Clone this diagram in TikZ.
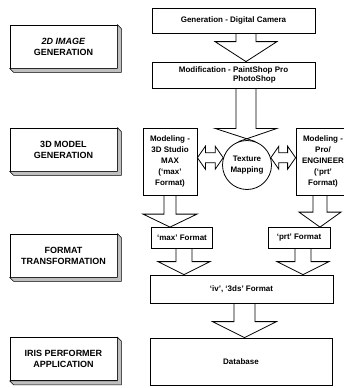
\documentclass[tikz,border=0pt]{standalone}
\usepackage{fontspec}
\setmainfont{Liberation Sans}
\usepackage{tikz}
\usetikzlibrary{calc,positioning}

% hollow block arrow pointing down: from, to, axis x, shaft half, head half, head length
\newcommand{\blockdown}[6]{%
  \draw[blockline] ($(#1.south -| #3,0)+(-#4,0)$) -- ($(#2.north -| #3,0)+(-#4,-#6)$)
    -- ($(#2.north -| #3,0)+(-#5,-#6)$) -- (#2.north -| #3,0)
    -- ($(#2.north -| #3,0)+(#5,-#6)$) -- ($(#2.north -| #3,0)+(#4,-#6)$)
    -- ($(#1.south -| #3,0)+(#4,0)$);}
% hollow double-headed block arrow: left end, right end, shaft half, head half, head length
\newcommand{\blockboth}[5]{%
  \draw[blockline] (#1) -- ($(#1)+(#5,-#4)$) -- ($(#1)+(#5,-#3)$) -- ($(#2)+(-#5,-#3)$)
    -- ($(#2)+(-#5,-#4)$) -- (#2) -- ($(#2)+(-#5,#4)$) -- ($(#2)+(-#5,#3)$)
    -- ($(#1)+(#5,#3)$) -- ($(#1)+(#5,#4)$) -- cycle;}

\begin{document}
\begin{tikzpicture}[
x=1pt,y=-1pt,
font=\bfseries\fontsize{8}{11}\selectfont,
labelbox/.style={draw,fill=white,line width=0.8pt,minimum width=107pt,minimum height=43pt,
  inner sep=0pt,align=center,font=\bfseries\fontsize{9}{11}\selectfont},
shadowband/.style={draw,fill=gray!50,line width=0.6pt,line join=round},
stepbox/.style={draw,fill=white,line width=0.8pt,inner sep=0pt,align=center},
blockline/.style={line width=0.8pt,line join=miter}]
    \useasboundingbox (0,0) rectangle (344,388);
    \clip (0,0) rectangle (344,388);

    % Draw stage labels
    \node[labelbox] (lbltwod) at (63.5,46.5) {\textit{2D IMAGE}\\GENERATION};
    \node[labelbox] (lblthreed) at (63.5,149.5) {3D MODEL\\GENERATION};
    \node[labelbox] (lblformat) at (63.5,255.5) {FORMAT\\TRANSFORMATION};
    \node[labelbox] (lbliris) at (63.5,359) {IRIS PERFORMER\\APPLICATION};
    \foreach \n in {lbltwod,lblthreed,lblformat,lbliris}
        \draw[shadowband] (\n.north east) -- ++(4,4) -- ($(\n.south east)+(4,4)$)
            -- ($(\n.south west)+(4,4)$) -- (\n.south west) -- (\n.south east) -- cycle;

    % Draw process boxes
    \node[stepbox,minimum width=163pt,minimum height=25pt] (gencam) at (233.5,20.5)
        {Generation - Digital Camera};
    \node[stepbox,minimum width=163pt,minimum height=26pt,align=left,
        font=\bfseries\fontsize{8}{9}\selectfont] (modif) at (233.5,75)
        {Modification - PaintShop Pro\\\phantom{Modification - }PhotoShop};
    \node[stepbox,circle,minimum size=49pt] (texmap) at (247,165) {Texture\\Mapping};
    \node[stepbox,minimum width=54pt,minimum height=67pt] (maxmodel) at (170,161.5)
        {Modeling -\\3D Studio\\MAX\\(`max'\\Format)};
    \node[stepbox,minimum width=54pt,minimum height=67pt] (prtmodel) at (323,161.5)
        {Modeling -\\Pro/\\ENGINEER\\(`prt'\\Format)};
    \node[stepbox,minimum width=61pt,minimum height=21pt] (maxfmt) at (182,238) {`max' Format};
    \node[stepbox,minimum width=62pt,minimum height=21pt] (prtfmt) at (299,238) {`prt' Format};
    \node[stepbox,minimum width=183pt,minimum height=28pt] (ivfmt) at (241.5,289) {`iv', `3ds' Format};
    \node[stepbox,minimum width=182pt,minimum height=47pt] (dbase) at (241,361.5) {Database};

    % Draw block arrows
    \blockdown{gencam}{modif}{246}{10}{31}{20}
    \draw[blockline] ($(modif.south -| texmap)+(-11,0)$) -- ++(0,40) -- ++(-21,0) -- (texmap.70);
    \draw[blockline] ($(modif.south -| texmap)+(9,0)$) -- ++(0,40) -- ++(21,0) -- (texmap.110);
    \blockboth{maxmodel.east |- texmap.163}{texmap.163}{5}{11.5}{8}
    \blockboth{texmap.17}{prtmodel.west |- texmap.17}{5}{11.5}{8}
    \blockdown{maxmodel}{maxfmt}{170}{6}{27}{13}
    \blockdown{prtmodel}{prtfmt}{320}{7}{21}{15}
    \blockdown{maxfmt}{ivfmt}{184}{8}{26}{13}
    \blockdown{prtfmt}{ivfmt}{303}{8}{26}{13}
    \blockdown{ivfmt}{dbase}{244.5}{10.5}{32}{16}
\end{tikzpicture}
\end{document}
